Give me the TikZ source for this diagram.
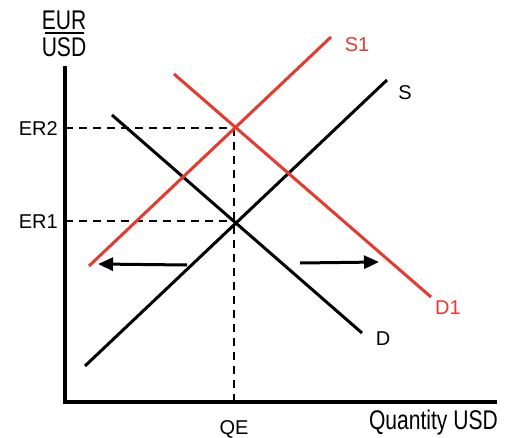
\documentclass[tikz,border=0pt]{standalone}
\usepackage{fontspec}
\setmainfont{Liberation Sans}
\newfontfamily\cond[FakeStretch=0.78]{Liberation Sans}
\usetikzlibrary{arrows.meta}
\definecolor{redline}{HTML}{E8392F}
\begin{document}
\begin{tikzpicture}[x=1pt,y=-1pt,
  curve/.style={line width=3pt},
  axis/.style={line width=4pt},
  guide/.style={line width=1.6pt,dash pattern=on 8pt off 6pt},
  shiftarrow/.style={line width=3pt,-{Triangle[length=15pt,width=13pt]}},
  lab/.style={font=\fontsize{20}{20}\selectfont,inner sep=0pt},
  clab/.style={font=\cond\fontsize{27}{27}\selectfont,inner sep=0pt}]
\useasboundingbox (0,0) rectangle (505,438);
% axes
\coordinate (top) at (65,66);
\coordinate (origin) at (65,402);
\coordinate (xend) at (497,402);
\draw[axis] (top) -- (origin) -- (xend);
% axis labels
\node[clab] (eur) at (64,20) {EUR};
\coordinate (fl) at (45,33);
\coordinate (fr) at (84,33);
\draw[line width=2.4pt] (fl) -- (fr);
\node[clab] (usd) at (64,47) {USD};
\node[clab,anchor=east] (qty) at (498,423) {Quantity USD};
% equilibrium points
\coordinate (e1) at (234,221);
\coordinate (e2) at (234,128);
\coordinate (er1) at (65,221);
\coordinate (er2) at (65,128);
\coordinate (qe) at (234,402);
\draw[guide] (er2) -- (e2);
\draw[guide] (er1) -- (e1);
\draw[guide] (e2) -- (qe);
\node[lab,anchor=east] (ler2) at (58,129) {ER2};
\node[lab,anchor=east] (ler1) at (58,222) {ER1};
\node[lab] (lqe) at (234,429) {QE};
% curves
\coordinate (s0) at (85,366);
\coordinate (s9) at (387,80);
\draw[curve] (s0) -- (s9);
\node[lab] (ls) at (405,93) {S};
\coordinate (d0) at (112,115);
\coordinate (d9) at (362,333);
\draw[curve] (d0) -- (d9);
\node[lab] (ld) at (383,339) {D};
\coordinate (s10) at (89,266);
\coordinate (s19) at (331,37);
\draw[curve,redline] (s10) -- (s19);
\node[lab,text=redline] (ls1) at (357,45) {S1};
\coordinate (d10) at (174,74);
\coordinate (d19) at (431,297);
\draw[curve,redline] (d10) -- (d19);
\node[lab,text=redline] (ld1) at (448,308) {D1};
% shift arrows
\coordinate (la0) at (187,265);
\coordinate (la1) at (98,264);
\draw[shiftarrow] (la0) -- (la1);
\coordinate (ra0) at (300,263);
\coordinate (ra1) at (379,262);
\draw[shiftarrow] (ra0) -- (ra1);
\end{tikzpicture}
\end{document}
